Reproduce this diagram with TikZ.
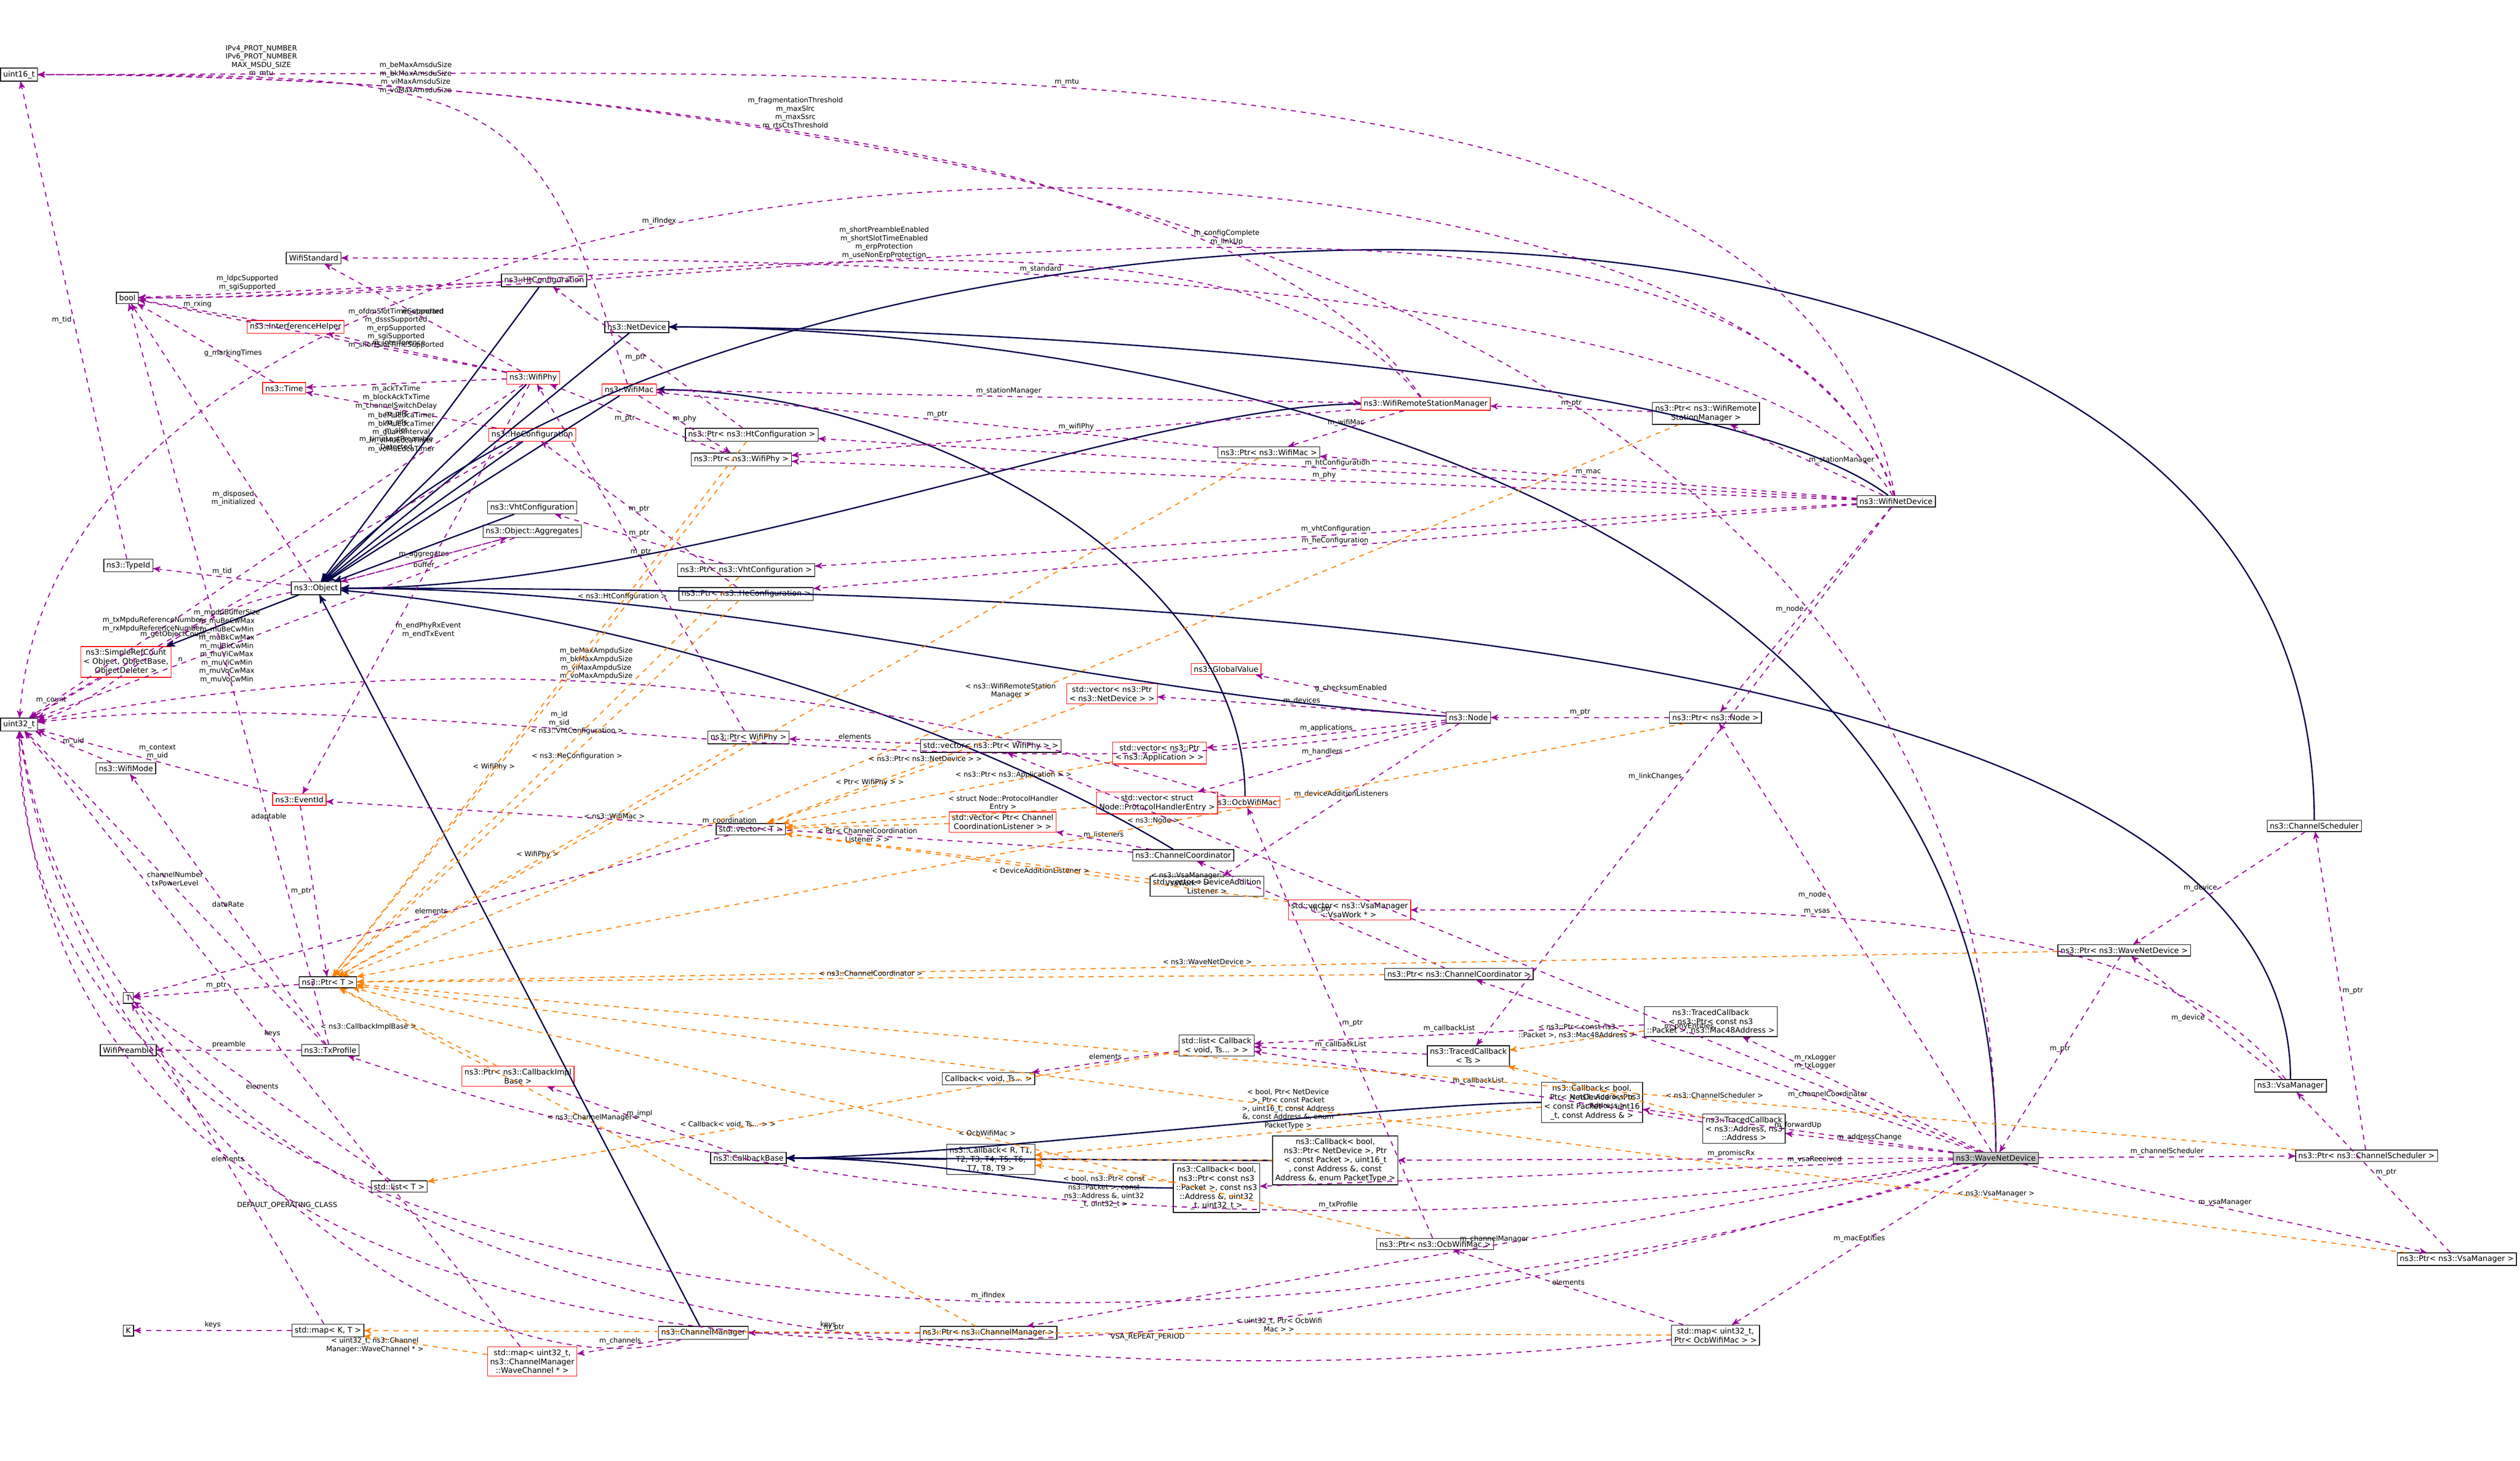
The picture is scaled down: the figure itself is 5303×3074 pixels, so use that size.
\documentclass[tikz,border=0pt]{standalone}
\usepackage{fontspec}
\setmainfont{DejaVu Sans}
\usetikzlibrary{arrows,positioning,calc}
\tikzset{
  box/.style={draw,fill=white,font=\fontsize{4.6}{5.4}\selectfont,inner sep=1.6pt,align=center,minimum height=0.22cm},
  redbox/.style={box,draw=red},
  rootbox/.style={box,fill=gray!45},
  lbl/.style={font=\fontsize{4.2}{5}\selectfont,align=center,inner sep=1pt},
  inh/.style={->,>=stealth',draw=blue!30!black,thick},
  use/.style={->,>=stealth',draw=violet!80!magenta,dashed,semithick},
  tmpl/.style={->,>=stealth',draw=orange,dashed,semithick},
}
\begin{document}
\begin{tikzpicture}[x=0.1mm,y=-0.1mm]
    \useasboundingbox (0,0) rectangle (5303,3074);
    
    % basic types
    \node[box](u16) at (40,157) {uint16\_t};
    \node[box](bool) at (268,627) {bool};
    \node[box](u32) at (40,1525) {uint32\_t};
    \node[box](T) at (270,2100) {T};
    \node[box](K) at (270,2800) {K};
    \node[box](pre) at (270,2210) {WifiPreamble};
    \node[box](std) at (660,543) {WifiStandard};
    
    % objects
    \node[box](obj) at (665,1238) {ns3::Object};
    \node[box](tid) at (270,1190) {ns3::TypeId};
    \node[redbox](src) at (265,1393) {ns3::SimpleRefCount\\< Object, ObjectBase,\\ ObjectDeleter >};
    \node[box](agg) at (1120,1118) {ns3::Object::Aggregates};
    \node[box](mode) at (265,1617) {ns3::WifiMode};
    \node[redbox](evt) at (630,1683) {ns3::EventId};
    \node[redbox](intf) at (622,688) {ns3::InterferenceHelper};
    \node[redbox](time) at (598,817) {ns3::Time};
    \node[redbox](phy) at (1122,795) {ns3::WifiPhy};
    \node[box](htc) at (1145,590) {ns3::HtConfiguration};
    \node[redbox](hec) at (1120,915) {ns3::HeConfiguration};
    \node[box](vhtc) at (1120,1068) {ns3::VhtConfiguration};
    \node[box](nd) at (1340,688) {ns3::NetDevice};
    \node[redbox](mac) at (1324,820) {ns3::WifiMac};
    \node[redbox](wrsm) at (3000,850) {ns3::WifiRemoteStationManager};
    \node[box](wnd) at (3990,1055) {ns3::WifiNetDevice};
    \node[box](node) at (3090,1510) {ns3::Node};
    \node[redbox](gv) at (2580,1408) {ns3::GlobalValue};
    \node[redbox](ocb) at (2620,1688) {ns3::OcbWifiMac};
    \node[box](cc) at (2490,1800) {ns3::ChannelCoordinator};
    \node[box](cs) at (4870,1738) {ns3::ChannelScheduler};
    \node[box](vsa) at (4820,2285) {ns3::VsaManager};
    \node[box](cm) at (1480,2805) {ns3::ChannelManager};
    \node[box](txp) at (695,2210) {ns3::TxProfile};
    \node[box](cb) at (1575,2437) {ns3::CallbackBase};
    \node[rootbox](wave) at (4200,2437) {ns3::WaveNetDevice};
    
    % pointers
    \node[box](pT) at (690,2067) {ns3::Ptr< T >};
    \node[box](pht) at (1582,915) {ns3::Ptr< ns3::HtConfiguration >};
    \node[box](pphy) at (1560,967) {ns3::Ptr< ns3::WifiPhy >};
    \node[box](pvht) at (1570,1200) {ns3::Ptr< ns3::VhtConfiguration >};
    \node[box](phe) at (1570,1250) {ns3::Ptr< ns3::HeConfiguration >};
    \node[box](pwphy) at (1575,1552) {ns3::Ptr< WifiPhy >};
    \node[box](pmac) at (2670,952) {ns3::Ptr< ns3::WifiMac >};
    \node[box](pwrsm) at (3590,870) {ns3::Ptr< ns3::WifiRemote\\StationManager >};
    \node[box](pnode) at (3610,1510) {ns3::Ptr< ns3::Node >};
    \node[box](pwave) at (4470,2000) {ns3::Ptr< ns3::WaveNetDevice >};
    \node[box](pcc) at (3070,2050) {ns3::Ptr< ns3::ChannelCoordinator >};
    \node[redbox](pcib) at (1090,2265) {ns3::Ptr< ns3::CallbackImpl\\Base >};
    \node[box](pcs) at (4980,2432) {ns3::Ptr< ns3::ChannelScheduler >};
    \node[box](pocb) at (3020,2618) {ns3::Ptr< ns3::OcbWifiMac >};
    \node[box](pvsa) at (5170,2650) {ns3::Ptr< ns3::VsaManager >};
    \node[box](pcm) at (2080,2805) {ns3::Ptr< ns3::ChannelManager >};
    
    % containers
    \node[redbox](vdev) at (2340,1460) {std::vector< ns3::Ptr\\< ns3::NetDevice > >};
    \node[box](vphy) at (2085,1570) {std::vector< ns3::Ptr< WifiPhy > >};
    \node[redbox](vapp) at (2440,1585) {std::vector< ns3::Ptr\\< ns3::Application > >};
    \node[redbox](vhand) at (2435,1690) {std::vector< struct\\ Node::ProtocolHandlerEntry >};
    \node[box](vT) at (1580,1745) {std::vector< T >};
    \node[redbox](vlis) at (2110,1730) {std::vector< Ptr< Channel\\CoordinationListener > >};
    \node[box](vdal) at (2540,1865) {std::vector< DeviceAddition\\Listener >};
    \node[redbox](vvsa) at (2840,1915) {std::vector< ns3::VsaManager\\::VsaWork * >};
    \node[box](lT) at (840,2497) {std::list< T >};
    \node[box](mKT) at (690,2800) {std::map< K, T >};
    \node[redbox](mwc) at (1120,2865) {std::map< uint32\_t,\\ ns3::ChannelManager\\::WaveChannel * >};
    \node[box](mocb) at (3610,2810) {std::map< uint32\_t,\\ Ptr< OcbWifiMac > >};
    
    % callbacks
    \node[box](tcpm) at (3600,2150) {ns3::TracedCallback\\< ns3::Ptr< const ns3\\::Packet >, ns3::Mac48Address >};
    \node[box](lcb) at (2560,2200) {std::list< Callback\\< void, Ts... > >};
    \node[box](tcts) at (3090,2222) {ns3::TracedCallback\\< Ts >};
    \node[box](cbv) at (2080,2270) {Callback< void, Ts... >};
    \node[box](cbnd) at (3350,2320) {ns3::Callback< bool,\\ Ptr< NetDevice >, Ptr\\< const Packet >, uint16\\\_t, const Address \& >};
    \node[box](tcaa) at (3670,2375) {ns3::TracedCallback\\< ns3::Address, ns3\\::Address >};
    \node[box](cbR) at (2085,2440) {ns3::Callback< R, T1,\\ T2, T3, T4, T5, T6,\\ T7, T8, T9 >};
    \node[box](cbpt) at (2810,2442) {ns3::Callback< bool,\\ ns3::Ptr< NetDevice >, Ptr\\< const Packet >, uint16\_t\\, const Address \&, const\\ Address \&, enum PacketType >};
    \node[box](cbpk) at (2560,2500) {ns3::Callback< bool,\\ ns3::Ptr< const ns3\\::Packet >, const ns3\\::Address \&, uint32\\\_t, uint32\_t >};
    
    % inheritance
    \draw[inh] (obj) -- (src);
    \foreach \n in {phy,mac,htc,hec,vhtc,nd,cm}
      \draw[inh] (\n) -- (obj);
    \draw[inh] (wrsm) .. controls +(-600,0) and +(800,0) .. (obj);
    \draw[inh] (node) .. controls +(-800,-50) and +(900,0) .. (obj);
    \draw[inh] (cc) .. controls +(-500,-300) and +(600,50) .. (obj);
    \draw[inh] (cs) .. controls +(0,-1650) and +(800,-900) .. (obj);
    \draw[inh] (vsa) .. controls +(0,-1000) and +(1500,0) .. (obj);
    \draw[inh] (wnd) .. controls +(-400,-300) and +(600,0) .. (nd);
    \draw[inh] (wave) .. controls +(0,-1500) and +(900,0) .. (nd);
    \draw[inh] (ocb) .. controls +(0,-500) and +(600,0) .. (mac);
    \draw[inh] (cbR) -- (cb);
    \draw[inh] (cbnd) .. controls +(-400,0) and +(400,0) .. (cb);
    \draw[inh] (cbpt) .. controls +(-400,0) and +(400,0) .. (cb);
    \draw[inh] (cbpk) .. controls +(-400,0) and +(400,0) .. (cb);
    
    % members of WaveNetDevice
    \draw[use] (wave) .. controls +(0,-2000) and +(1500,0) .. node[lbl,pos=0.9,above]{IPv4\_PROT\_NUMBER\\IPv6\_PROT\_NUMBER\\MAX\_MSDU\_SIZE\\m\_mtu} (u16);
    \draw[use] (wave) .. controls +(-1500,500) and +(0,1400) .. node[lbl,pos=0.4,above]{m\_ifIndex} (u32);
    \draw[use] (wave) .. controls +(-2000,620) and +(50,1500) .. node[lbl,pos=0.3,below]{VSA\_REPEAT\_PERIOD} (u32);
    \draw[use] (wave) -- node[lbl,above]{m\_channelScheduler} (pcs);
    \draw[use] (wave) -- node[lbl,above]{m\_vsaManager} (pvsa);
    \draw[use] (wave) -- node[lbl,above]{m\_channelManager} (pcm);
    \draw[use] (wave) -- node[lbl,above]{m\_macEntities} (mocb);
    \draw[use] (wave) .. controls +(-2000,300) and +(300,100) .. node[lbl,pos=0.25,above]{m\_txProfile} (txp);
    \draw[use] (wave) -- node[lbl,above,pos=0.3]{m\_phyEntities} (vphy);
    \draw[use] (wave) -- node[lbl,above]{m\_forwardUp} (cbnd);
    \draw[use] (wave) -- node[lbl,above,pos=0.4]{m\_promiscRx} (cbpt);
    \draw[use] (wave) -- node[lbl,above]{m\_addressChange} (tcaa);
    \draw[use] (wave) -- node[lbl,above,pos=0.3]{m\_channelCoordinator} (pcc);
    \draw[use] (wave) -- node[lbl,above,pos=0.7]{m\_rxLogger\\m\_txLogger} (tcpm);
    \draw[use] (wave) -- node[lbl,pos=0.6,left]{m\_node} (pnode);
    \draw[use] (wave) -- node[lbl,above,pos=0.2]{m\_vsaReceived} (cbpk);
    
    % members of WifiNetDevice
    \draw[use] (wnd) .. controls +(-200,-1000) and +(2000,0) .. node[lbl,pos=0.6,above]{m\_mtu} (u16);
    \draw[use] (wnd) .. controls +(-300,-950) and +(100,-1400) .. node[lbl,pos=0.6,above]{m\_ifIndex} (u32);
    \draw[use] (wnd) .. controls +(-300,-850) and +(1500,0) .. node[lbl,pos=0.5,above]{m\_configComplete\\m\_linkUp} (bool);
    \draw[use] (wnd) .. controls +(-300,-500) and +(1000,0) .. node[lbl,pos=0.6,above]{m\_standard} (std);
    \draw[use] (wnd) -- node[lbl,right]{m\_stationManager} (pwrsm);
    \draw[use] (wnd) -- node[lbl,above]{m\_mac} (pmac);
    \draw[use] (wnd) -- node[lbl,above]{m\_phy} (pphy);
    \draw[use] (wnd) -- node[lbl,above]{m\_htConfiguration} (pht);
    \draw[use] (wnd) -- node[lbl,above]{m\_vhtConfiguration} (pvht);
    \draw[use] (wnd) -- node[lbl,above]{m\_heConfiguration} (phe);
    \draw[use] (wnd) -- node[lbl,left]{m\_node} (pnode);
    \draw[use] (wnd) -- node[lbl,left]{m\_linkChanges} (tcts);
    
    % members of Object and friends
    \draw[use] (obj) -- node[lbl,above]{m\_tid} (tid);
    \draw[use] (obj) -- node[lbl,above]{m\_aggregates} (agg);
    \draw[use] (obj) -- node[lbl,left,pos=0.3]{m\_disposed\\m\_initialized} (bool);
    \draw[use] (obj) .. controls +(-300,50) and +(200,-50) .. node[lbl,above,pos=0.4]{m\_getObjectCount} (u32);
    \draw[use] (src) -- node[lbl,above,pos=0.7]{m\_count} (u32);
    \draw[use] (tid) -- node[lbl,left]{m\_tid} (u16);
    \draw[use] (agg) -- node[lbl,below]{buffer} (obj);
    \draw[use] (agg) -- node[lbl,above,pos=0.7]{n} (u32);
    \draw[use] (mode) -- node[lbl,above]{m\_uid} (u32);
    \draw[use] (evt) -- node[lbl,above]{m\_context\\m\_uid} (u32);
    \draw[use] (evt) -- node[lbl,left]{m\_ptr} (pT);
    
    % members of WifiPhy
    \draw[use] (phy) -- node[lbl,above,pos=0.6]{m\_interference} (intf);
    \draw[use] (phy) -- node[lbl,below,pos=0.55]{m\_ackTxTime\\m\_blockAckTxTime\\m\_channelSwitchDelay\\m\_pifs\\m\_sifs\\m\_slot\\m\_timeLastPreamble\\Detected} (time);
    \draw[use] (phy) -- node[lbl,above,pos=0.75]{m\_txMpduReferenceNumber\\m\_rxMpduReferenceNumber} (u32);
    \draw[use] (phy) -- node[lbl,above,pos=0.3]{m\_ofdmSlotTimeSupported\\m\_dsssSupported\\m\_erpSupported\\m\_sgiSupported\\m\_shortSlotTimeSupported} (bool);
    \draw[use] (phy) -- node[lbl,right,pos=0.6]{m\_endPhyRxEvent\\m\_endTxEvent} (evt);
    \draw[use] (phy) -- node[lbl,above,pos=0.5]{m\_standard} (std);
    \draw[use] (intf) -- node[lbl,above]{m\_rxing} (bool);
    \draw[use] (time) -- node[lbl,above,pos=0.3]{g\_markingTimes} (bool);
    \draw[use] (htc) -- node[lbl,above,pos=0.7]{m\_ldpcSupported\\m\_sgiSupported} (bool);
    \draw[use] (hec) -- node[lbl,below,pos=0.5]{m\_beMuEdcaTimer\\m\_bkMuEdcaTimer\\m\_guardInterval\\m\_viMuEdcaTimer\\m\_voMuEdcaTimer} (time);
    \draw[use] (hec) -- node[lbl,below,pos=0.6]{m\_mpduBufferSize\\m\_muBeCwMax\\m\_muBeCwMin\\m\_muBkCwMax\\m\_muBkCwMin\\m\_muViCwMax\\m\_muViCwMin\\m\_muVoCwMax\\m\_muVoCwMin} (u32);
    
    % members of WifiMac and station manager
    \draw[use] (mac) .. controls +(-200,-650) and +(1000,0) .. node[lbl,pos=0.6,above]{m\_beMaxAmsduSize\\m\_bkMaxAmsduSize\\m\_viMaxAmsduSize\\m\_voMaxAmsduSize} (u16);
    \draw[use] (mac) -- node[lbl,above]{m\_phy} (pphy);
    \draw[use] (mac) -- node[lbl,above]{m\_stationManager} (wrsm);
    \draw[use] (ocb) .. controls +(-1000,-300) and +(800,-150) .. node[lbl,above,pos=0.5]{m\_beMaxAmpduSize\\m\_bkMaxAmpduSize\\m\_viMaxAmpduSize\\m\_voMaxAmpduSize} (u32);
    \draw[use] (wrsm) .. controls +(-400,-600) and +(800,0) .. node[lbl,pos=0.5,above]{m\_fragmentationThreshold\\m\_maxSlrc\\m\_maxSsrc\\m\_rtsCtsThreshold} (u16);
    \draw[use] (wrsm) .. controls +(-400,-500) and +(1000,0) .. node[lbl,pos=0.5,above]{m\_shortPreambleEnabled\\m\_shortSlotTimeEnabled\\m\_erpProtection\\m\_useNonErpProtection} (bool);
    \draw[use] (wrsm) -- node[lbl,above]{m\_wifiPhy} (pphy);
    \draw[use] (wrsm) -- node[lbl,above]{m\_wifiMac} (pmac);
    \draw[use] (pwrsm) -- node[lbl,above]{m\_ptr} (wrsm);
    \draw[use] (pmac) -- node[lbl,above]{m\_ptr} (mac);
    \draw[use] (pphy) -- node[lbl,left]{m\_ptr} (phy);
    \draw[use] (pht) -- node[lbl,left]{m\_ptr} (htc);
    \draw[use] (pvht) -- node[lbl,above]{m\_ptr} (vhtc);
    \draw[use] (phe) -- node[lbl,above]{m\_ptr} (hec);
    \draw[use] (pwphy) -- node[lbl,above]{m\_ptr} (phy);
    
    % Node
    \draw[use] (node) .. controls +(-1000,200) and +(800,-100) .. node[lbl,pos=0.6,above]{m\_id\\m\_sid} (u32);
    \draw[use] (node) -- node[lbl,above]{g\_checksumEnabled} (gv);
    \draw[use] (node) -- node[lbl,above]{m\_devices} (vdev);
    \draw[use] (node) -- node[lbl,above]{m\_applications} (vapp);
    \draw[use] (node) -- node[lbl,above]{m\_handlers} (vhand);
    \draw[use] (node) -- node[lbl,above]{m\_deviceAdditionListeners} (vdal);
    \draw[use] (pnode) -- node[lbl,above]{m\_ptr} (node);
    
    % coordinators, schedulers, managers
    \draw[use] (cc) -- node[lbl,above]{m\_listeners} (vlis);
    \draw[use] (cc) -- node[lbl,above]{m\_coordination} (evt);
    \draw[use] (pcc) -- node[lbl,above]{m\_ptr} (cc);
    \draw[use] (cs) -- node[lbl,left]{m\_device} (pwave);
    \draw[use] (vsa) -- node[lbl,left]{m\_device} (pwave);
    \draw[use] (vsa) .. controls +(-300,-400) and +(800,0) .. node[lbl,above,pos=0.6]{m\_vsas} (vvsa);
    \draw[use] (pwave) -- node[lbl,above]{m\_ptr} (wave);
    \draw[use] (pcs) -- node[lbl,right]{m\_ptr} (cs);
    \draw[use] (pvsa) -- node[lbl,right]{m\_ptr} (vsa);
    \draw[use] (cm) -- node[lbl,above]{m\_channels} (mwc);
    \draw[use] (cm) .. controls +(-500,150) and +(100,800) .. node[lbl,pos=0.5,below]{DEFAULT\_OPERATING\_CLASS} (u32);
    \draw[use] (pcm) -- node[lbl,above]{m\_ptr} (cm);
    \draw[use] (pocb) -- node[lbl,right]{m\_ptr} (ocb);
    \draw[use] (mocb) -- node[lbl,above]{elements} (pocb);
    \draw[use] (mocb) .. controls +(-1500,150) and +(200,1300) .. node[lbl,pos=0.4,above]{keys} (u32);
    \draw[use] (mwc) -- node[lbl,above]{keys} (u32);
    
    % TxProfile and templates
    \draw[use] (txp) -- node[lbl,above]{dataRate} (mode);
    \draw[use] (txp) -- node[lbl,above]{preamble} (pre);
    \draw[use] (txp) -- node[lbl,above]{channelNumber\\txPowerLevel} (u32);
    \draw[use] (txp) -- node[lbl,above,pos=0.3]{adaptable} (bool);
    \draw[use] (pT) -- node[lbl,above]{m\_ptr} (T);
    \draw[use] (vT) -- node[lbl,above]{elements} (T);
    \draw[use] (lT) -- node[lbl,above]{elements} (T);
    \draw[use] (mKT) -- node[lbl,above]{elements} (T);
    \draw[use] (mKT) -- node[lbl,above]{keys} (K);
    \draw[use] (cb) -- node[lbl,above]{m\_impl} (pcib);
    \draw[use] (lcb) -- node[lbl,above]{elements} (cbv);
    \draw[use] (tcts) -- node[lbl,above]{m\_callbackList} (lcb);
    \draw[use] (tcpm) -- node[lbl,above]{m\_callbackList} (lcb);
    \draw[use] (tcaa) -- node[lbl,above]{m\_callbackList} (lcb);
    \draw[use] (vphy) -- node[lbl,above]{elements} (pwphy);
    
    % template instances
    \draw[tmpl] (pht) -- node[lbl,above,pos=0.3]{< ns3::HtConfiguration >} (pT);
    \draw[tmpl] (pphy) -- node[lbl,above,pos=0.6]{< WifiPhy >} (pT);
    \draw[tmpl] (pvht) -- node[lbl,above,pos=0.4]{< ns3::VhtConfiguration >} (pT);
    \draw[tmpl] (phe) -- node[lbl,below,pos=0.4]{< ns3::HeConfiguration >} (pT);
    \draw[tmpl] (pwphy) -- node[lbl,above]{< WifiPhy >} (pT);
    \draw[tmpl] (pmac) -- node[lbl,above,pos=0.7]{< ns3::WifiMac >} (pT);
    \draw[tmpl] (pwrsm) -- node[lbl,above,pos=0.5]{< ns3::WifiRemoteStation\\Manager >} (pT);
    \draw[tmpl] (pnode) -- node[lbl,above,pos=0.4]{< ns3::Node >} (pT);
    \draw[tmpl] (pwave) -- node[lbl,above]{< ns3::WaveNetDevice >} (pT);
    \draw[tmpl] (pcc) -- node[lbl,above]{< ns3::ChannelCoordinator >} (pT);
    \draw[tmpl] (pcib) -- node[lbl,left]{< ns3::CallbackImplBase >} (pT);
    \draw[tmpl] (pcs) -- node[lbl,above,pos=0.3]{< ns3::ChannelScheduler >} (pT);
    \draw[tmpl] (pvsa) -- node[lbl,above,pos=0.2]{< ns3::VsaManager >} (pT);
    \draw[tmpl] (pcm) -- node[lbl,above,pos=0.6]{< ns3::ChannelManager >} (pT);
    \draw[tmpl] (pocb) -- node[lbl,above,pos=0.4]{< OcbWifiMac >} (pT);
    \draw[tmpl] (vdev) -- node[lbl,above]{< ns3::Ptr< ns3::NetDevice > >} (vT);
    \draw[tmpl] (vphy) -- node[lbl,above]{< Ptr< WifiPhy > >} (vT);
    \draw[tmpl] (vapp) -- node[lbl,above,pos=0.3]{< ns3::Ptr< ns3::Application > >} (vT);
    \draw[tmpl] (vhand) -- node[lbl,above,pos=0.3]{< struct Node::ProtocolHandler\\Entry >} (vT);
    \draw[tmpl] (vlis) -- node[lbl,below]{< Ptr< ChannelCoordination\\Listener > >} (vT);
    \draw[tmpl] (vdal) -- node[lbl,below,pos=0.3]{< DeviceAdditionListener >} (vT);
    \draw[tmpl] (vvsa) -- node[lbl,above,pos=0.2]{< ns3::VsaManager::\\VsaWork * >} (vT);
    \draw[tmpl] (lcb) -- node[lbl,above,pos=0.6]{< Callback< void, Ts... > >} (lT);
    \draw[tmpl] (tcpm) -- node[lbl,above]{< ns3::Ptr< const ns3\\::Packet >, ns3::Mac48Address >} (tcts);
    \draw[tmpl] (tcaa) -- node[lbl,below]{< ns3::Address, ns3\\::Address >} (tcts);
    \draw[tmpl] (cbnd) -- node[lbl,above]{< bool, Ptr< NetDevice\\ >, Ptr< const Packet\\ >, uint16\_t, const Address\\ \&, const Address \&, enum\\ PacketType >} (cbR);
    \draw[tmpl] (cbpt) -- (cbR);
    \draw[tmpl] (cbpk) -- node[lbl,below]{< bool, ns3::Ptr< const\\ ns3::Packet >, const\\ ns3::Address \&, uint32\\\_t, uint32\_t >} (cbR);
    \draw[tmpl] (mwc) -- node[lbl,left]{< uint32\_t, ns3::Channel\\Manager::WaveChannel * >} (mKT);
    \draw[tmpl] (mocb) -- node[lbl,above,pos=0.3]{< uint32\_t, Ptr< OcbWifi\\Mac > >} (mKT);
\end{tikzpicture}
\end{document}
